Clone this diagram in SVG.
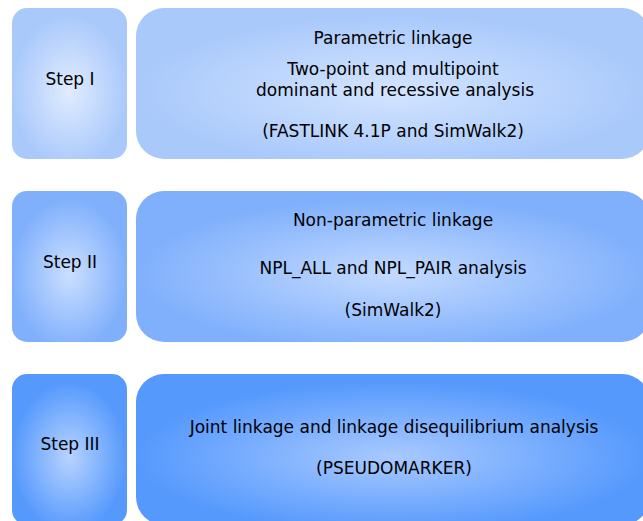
<svg xmlns="http://www.w3.org/2000/svg" width="643" height="521" viewBox="0 0 643 521">
<defs>
<radialGradient id="g1" cx="0.5" cy="0.55" r="0.5"><stop offset="0" stop-color="#e0ecff"/><stop offset="1" stop-color="#aac9fb"/></radialGradient>
<radialGradient id="g1b" cx="0.5" cy="0.55" r="0.5"><stop offset="0" stop-color="#d3e4ff"/><stop offset="1" stop-color="#a9c9fb"/></radialGradient>
<radialGradient id="g2" cx="0.5" cy="0.55" r="0.5"><stop offset="0" stop-color="#cbdfff"/><stop offset="1" stop-color="#80b0fc"/></radialGradient>
<radialGradient id="g2b" cx="0.5" cy="0.55" r="0.5"><stop offset="0" stop-color="#c3daff"/><stop offset="1" stop-color="#80b0fc"/></radialGradient>
<radialGradient id="g3" cx="0.5" cy="0.55" r="0.5"><stop offset="0" stop-color="#b8d3ff"/><stop offset="1" stop-color="#5599fd"/></radialGradient>
<radialGradient id="g3b" cx="0.5" cy="0.55" r="0.5"><stop offset="0" stop-color="#a9c9ff"/><stop offset="1" stop-color="#5599fd"/></radialGradient>
</defs>
<style>
text{font-family:"DejaVu Sans",sans-serif;font-size:17px;fill:#000;text-anchor:middle}
</style>
<rect width="643" height="521" fill="#fff"/>
<g id="step1"><rect x="12" y="8" width="115" height="151" rx="15" fill="url(#g1)"/><text x="70" y="85">Step I</text></g>
<g id="box1"><rect x="136" y="8" width="514" height="151" rx="28" fill="url(#g1b)"/>
<text x="393" y="44">Parametric linkage</text>
<text x="393" y="75">Two-point and multipoint</text>
<text x="395" y="96">dominant and recessive analysis</text>
<text x="393" y="137">(FASTLINK 4.1P and SimWalk2)</text></g>
<g id="step2"><rect x="12" y="191" width="115" height="151" rx="15" fill="url(#g2)"/><text x="70" y="268">Step II</text></g>
<g id="box2"><rect x="136" y="191" width="514" height="151" rx="28" fill="url(#g2b)"/>
<text x="393" y="226">Non-parametric linkage</text>
<text x="393" y="274">NPL_ALL and NPL_PAIR analysis</text>
<text x="393" y="316">(SimWalk2)</text></g>
<g id="step3"><rect x="12" y="374" width="115" height="151" rx="15" fill="url(#g3)"/><text x="70" y="450">Step III</text></g>
<g id="box3"><rect x="136" y="374" width="514" height="151" rx="28" fill="url(#g3b)"/>
<text x="394" y="433">Joint linkage and linkage disequilibrium analysis</text>
<text x="394" y="474">(PSEUDOMARKER)</text></g>
<g id="connectors"/>
</svg>
